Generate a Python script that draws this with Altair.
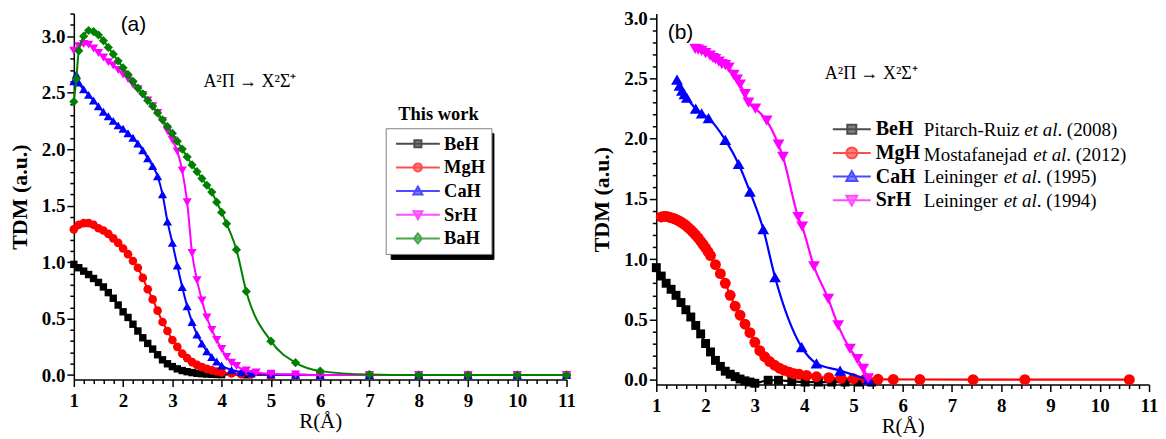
import altair as alt
import pandas as pd

# ---------------- Panel (a): "This work" ----------------
A_SERIES = ["BeH", "MgH", "CaH", "SrH", "BaH"]
A_COLORS = ["#000000", "#ff0000", "#0000ff", "#ff00ff", "#008000"]

a_beh_r = [1.0, 1.1, 1.2, 1.3, 1.4, 1.5, 1.6, 1.7, 1.8, 1.9,
           2.0, 2.1, 2.2, 2.3, 2.4, 2.5, 2.6, 2.7, 2.8, 2.9,
           3.0, 3.1, 3.2, 3.3, 3.4, 3.5, 3.6, 3.7, 3.8, 3.9,
           4.0, 4.5, 5.0, 6.0, 7.0, 8.0, 9.0, 10.0, 11.0]
a_beh_v = [0.98, 0.95, 0.92, 0.89, 0.855, 0.82, 0.78, 0.73, 0.68, 0.62,
           0.56, 0.51, 0.45, 0.39, 0.33, 0.28, 0.23, 0.18, 0.135, 0.10,
           0.075, 0.055, 0.04, 0.03, 0.022, 0.016, 0.012, 0.009, 0.007, 0.005,
           0.004, 0.002, 0.001, 0.0, 0.0, 0.0, 0.0, 0.0, 0.0]

a_mgh_r = [1.0, 1.1, 1.2, 1.3, 1.4, 1.5, 1.6, 1.7, 1.8, 1.9,
           2.0, 2.1, 2.2, 2.3, 2.4, 2.5, 2.6, 2.7, 2.8, 2.9,
           3.0, 3.1, 3.2, 3.3, 3.4, 3.5, 3.6, 3.7, 3.8, 3.9,
           4.0, 4.2, 4.4, 4.6, 5.0, 5.5, 6.0, 7.0, 8.0, 9.0, 10.0, 11.0]
a_mgh_v = [1.29, 1.33, 1.345, 1.345, 1.33, 1.30, 1.28, 1.25, 1.21, 1.17,
           1.12, 1.07, 1.01, 0.95, 0.86, 0.76, 0.67, 0.57, 0.47, 0.39,
           0.31, 0.25, 0.19, 0.15, 0.115, 0.09, 0.07, 0.055, 0.042, 0.032,
           0.024, 0.014, 0.008, 0.005, 0.002, 0.001, 0.0, 0.0, 0.0, 0.0, 0.0, 0.0]

a_cah_r = [1.0, 1.05,
           1.1, 1.2, 1.3, 1.4, 1.5, 1.6, 1.7, 1.8, 1.9, 2.0,
           2.1, 2.2, 2.3, 2.4, 2.5, 2.6, 2.7, 2.8, 2.9, 3.0,
           3.1, 3.2, 3.3, 3.4, 3.5, 3.6, 3.7, 3.8, 3.9, 4.0,
           4.2, 4.4, 4.6, 5.0, 5.5, 6.0, 7.0, 8.0, 9.0, 10.0, 11.0]
a_cah_v = [2.60, 2.66,
           2.59, 2.53, 2.48, 2.43, 2.38, 2.33, 2.29, 2.25, 2.21, 2.18,
           2.14, 2.10, 2.05, 1.99, 1.92, 1.85, 1.76, 1.60, 1.36, 1.17,
           0.97, 0.78, 0.61, 0.47, 0.36, 0.28, 0.21, 0.16, 0.12, 0.085,
           0.045, 0.025, 0.015, 0.006, 0.003, 0.0, 0.0, 0.0, 0.0, 0.0, 0.0]

a_srh_r = [1.0, 1.1, 1.2, 1.3, 1.4, 1.5, 1.6, 1.7, 1.8, 1.9,
           2.0, 2.1, 2.2, 2.3, 2.4, 2.5, 2.6, 2.7, 2.8, 2.9,
           3.0, 3.1, 3.2, 3.3, 3.4, 3.5, 3.6, 3.7, 3.8, 3.9,
           4.0, 4.1, 4.2, 4.3,
           4.5, 4.7, 5.0, 5.5, 6.0, 7.0, 8.0, 9.0, 10.0, 11.0]
a_srh_v = [2.87, 2.91, 2.93, 2.925, 2.89, 2.85, 2.81, 2.77, 2.74, 2.70,
           2.66, 2.62, 2.57, 2.53, 2.48, 2.43, 2.38, 2.32, 2.25, 2.16,
           2.08, 1.98, 1.81, 1.53, 1.08, 0.84, 0.66, 0.51, 0.40, 0.31,
           0.23, 0.16, 0.11, 0.08,
           0.04, 0.022, 0.011, 0.005, 0.0, 0.0, 0.0, 0.0, 0.0, 0.0]

a_bah_r = [1.0, 1.05, 1.1,
           1.2, 1.3, 1.4, 1.5, 1.6, 1.7, 1.8, 1.9, 2.0, 2.1,
           2.2, 2.3, 2.4, 2.5, 2.6, 2.7, 2.8, 2.9, 3.0, 3.1,
           3.2, 3.3, 3.4, 3.5, 3.6, 3.7, 3.8, 3.9, 4.0, 4.1,
           4.3, 4.5, 5.0, 5.5, 6.0, 7.0, 8.0, 9.0, 10.0, 11.0]
a_bah_v = [2.42, 2.62, 2.87,
           3.00, 3.05, 3.04, 3.01, 2.96, 2.90, 2.84, 2.78, 2.72, 2.66,
           2.60, 2.54, 2.49, 2.43, 2.38, 2.32, 2.26, 2.20, 2.14, 2.07,
           2.00, 1.93, 1.86, 1.80, 1.74, 1.68, 1.62, 1.53, 1.44, 1.34,
           1.11, 0.74, 0.30, 0.11, 0.035, 0.005, 0.0, 0.0, 0.0, 0.0]

# ---------------- Panel (b): literature ----------------
B_SERIES = ["BeH", "MgH", "CaH", "SrH"]
B_COLORS = ["#000000", "#ff0000", "#0000ff", "#ff00ff"]
B_NAMES = ["Pitarch-Ruiz ", "Mostafanejad ", "Leininger ", "Leininger "]
B_ETAL = ["et al", "et al", "et al", "et al"]
B_YEARS = [". (2008)", ". (2012)", ". (1995)", ". (1994)"]

b_beh_r = [1.0, 1.1, 1.2, 1.3, 1.4, 1.5, 1.6, 1.7, 1.8, 1.9,
           2.0, 2.1, 2.2, 2.3, 2.4, 2.5, 2.6, 2.7, 2.8, 2.9,
           3.0, 3.27, 3.48, 3.75, 4.02, 4.29, 4.56, 4.83, 5.1, 5.37]
b_beh_v = [0.93, 0.86, 0.80, 0.75, 0.70, 0.64, 0.58, 0.52, 0.45, 0.38,
           0.30, 0.23, 0.16, 0.11, 0.07, 0.045, 0.025, 0.005, -0.01, -0.02,
           -0.03, -0.005, -0.005, -0.015, -0.02, -0.02, -0.02, -0.02, -0.02, -0.02]

b_mgh_r = [1.10, 1.15, 1.20, 1.25, 1.30, 1.35, 1.40, 1.45, 1.50, 1.55,
           1.60, 1.65, 1.70, 1.75, 1.80, 1.85, 1.90, 1.95, 2.00, 2.05, 2.10,
           2.2, 2.3, 2.4, 2.5, 2.6, 2.7, 2.8, 2.9, 3.0, 3.1, 3.2, 3.3, 3.4,
           3.5, 3.6, 3.7, 3.8, 3.9,
           4.05, 4.25, 4.5, 4.75, 5.0, 5.25, 5.5, 5.81, 6.35, 7.43, 8.48, 10.6]
b_mgh_v = [1.350, 1.355, 1.355, 1.350, 1.345, 1.338, 1.330, 1.320, 1.308, 1.295,
           1.280, 1.262, 1.243, 1.222, 1.200, 1.176, 1.150, 1.122, 1.093, 1.062, 1.030,
           0.955, 0.88, 0.80, 0.70, 0.61, 0.535, 0.46, 0.39, 0.31, 0.24, 0.19, 0.15, 0.12,
           0.095, 0.077, 0.062, 0.05, 0.044,
           0.035, 0.024, 0.016, 0.011, 0.008, 0.005, 0.003, 0.002, 0.001, 0.0, 0.0, 0.0]

b_cah_r = [1.42, 1.47, 1.52, 1.57, 1.62, 1.80, 1.92, 2.06, 2.40, 2.67,
           2.90, 3.17, 3.41, 3.95, 4.25, 4.73, 5.30]
b_cah_v = [2.49, 2.44, 2.40, 2.37, 2.34, 2.25, 2.21, 2.17, 1.99, 1.79,
           1.56, 1.25, 0.85, 0.27, 0.135, 0.075, 0.0]

b_srh_r = [1.79, 1.85, 1.92, 2.00, 2.09, 2.15, 2.20, 2.27, 2.33, 2.40,
           2.47, 2.57, 2.64, 2.70, 2.80, 2.87, 3.01, 3.24, 3.48, 3.57,
           3.88, 3.96, 4.20, 4.49, 4.69, 4.93, 5.08, 5.20, 5.30]
b_srh_v = [2.745, 2.74, 2.73, 2.71, 2.69, 2.67, 2.66, 2.64, 2.62, 2.61,
           2.59, 2.53, 2.49, 2.45, 2.37, 2.30, 2.25, 2.15, 1.95, 1.85,
           1.35, 1.27, 0.94, 0.67, 0.45, 0.255, 0.17, 0.09, 0.01]


def frame(series, rs, vs):
    parts = []
    for s, r, v in zip(series, rs, vs):
        d = pd.DataFrame({"r": r, "v": v})
        d["s"] = s
        parts.append(d)
    return pd.concat(parts, ignore_index=True)


df_a = frame(A_SERIES, [a_beh_r, a_mgh_r, a_cah_r, a_srh_r, a_bah_r],
             [a_beh_v, a_mgh_v, a_cah_v, a_srh_v, a_bah_v])
df_b = frame(B_SERIES, [b_beh_r, b_mgh_r, b_cah_r, b_srh_r],
             [b_beh_v, b_mgh_v, b_cah_v, b_srh_v])

SERIF = "Liberation Serif"
SANS = "Liberation Sans"

X_TICKS = [round(1 + 0.2 * i, 1) for i in range(51)]
MAJOR_X = "abs(datum.value - round(datum.value)) < 0.01"
MAJOR_Y = "abs(datum.value * 2 - round(datum.value * 2)) < 0.01"


def x_axis():
    return alt.Axis(values=X_TICKS, format=".0f",
                    labelExpr=f"{MAJOR_X} ? datum.label : ''",
                    labelFontSize={"condition": {"test": MAJOR_X, "value": 19}, "value": 0},
                    tickSize={"condition": {"test": MAJOR_X, "value": 7}, "value": 4},
                    labelFlush=False, labelOverlap=False, labelPadding=5,
                    titlePadding=0, titleFontWeight="normal", titleFontSize=21)


def y_axis(ymax_tick):
    vals = [round(0.1 * i, 1) for i in range(int(round(ymax_tick * 10)) + 1)]
    return alt.Axis(values=vals, format=".1f",
                    labelExpr=f"{MAJOR_Y} ? datum.label : ''",
                    labelFontSize={"condition": {"test": MAJOR_Y, "value": 19}, "value": 0},
                    tickSize={"condition": {"test": MAJOR_Y, "value": 7}, "value": 4},
                    labelOverlap=False, labelPadding=2, titlePadding=10,
                    titleFontWeight="bold", titleFontSize=22)


def panel(df, series, colors, shapes, sizes, ydom, ymax_tick, height,
          leg_paths, leg_kw, shadow_kw, annotations, line_w):
    xs = alt.Scale(domain=[1, 11], nice=False, zero=False)
    ys = alt.Scale(domain=ydom, nice=False, zero=False)
    xe = alt.X("r:Q", scale=xs, axis=x_axis(), title="R(Å)")
    ye = alt.Y("v:Q", scale=ys, axis=y_axis(ymax_tick), title="TDM (a.u.)")
    layers = []
    for s, c, shp, sz in zip(series, colors, shapes, sizes):
        base = alt.Chart(df).transform_filter(alt.datum.s == s)
        layers.append(base.mark_line(interpolate="monotone", strokeWidth=line_w, color=c).encode(
            x=xe, y=ye))
        layers.append(base.mark_point(shape=shp, filled=True, size=sz, opacity=1, strokeWidth=0,
                                      color=c).encode(x=xe, y=ye))
    # legend-only layer (no marks drawn; legend built from its scales)
    enc = dict(
        fill=alt.Fill("s:N", scale=alt.Scale(domain=series, range=colors), legend=alt.Legend(**leg_kw)),
        stroke=alt.Stroke("s:N", scale=alt.Scale(domain=series, range=colors), legend=alt.Legend(**leg_kw)),
        shape=alt.Shape("s:N", scale=alt.Scale(domain=series, range=leg_paths), legend=alt.Legend(**leg_kw)),
    )
    leg = alt.Chart(df).transform_filter("false")
    if shadow_kw is not None:
        leg = leg.transform_calculate(s2="datum.s + '_s'")
        enc["strokeDash"] = alt.StrokeDash(
            "s2:N", scale=alt.Scale(domain=[s + "_s" for s in series], range=[[1, 0]] * len(series)),
            legend=alt.Legend(**shadow_kw))
    layers.append(leg.mark_point(filled=True).encode(**enc))
    for ann in annotations:
        adf = pd.DataFrame({"x": ann["x"], "y": ann["y"], "t": ann["t"]})
        layers.append(alt.Chart(adf).mark_text(
            font=ann.get("font", SERIF), fontSize=ann["size"], fontWeight=ann.get("weight", "normal"),
            fontStyle=ann.get("style", "normal"), align=ann.get("align", "left"),
            baseline="middle", color="black").encode(x=alt.X("x:Q", scale=xs, axis=x_axis(), title="R(Å)"),
                                                    y=alt.Y("y:Q", scale=ys, axis=y_axis(ymax_tick), title="TDM (a.u.)"),
                                                    text="t:N"))
    return alt.layer(*layers).properties(width=494, height=height)


# legend symbol paths: a line plus the marker
A_LINE = "M-1,0H7.8"
a_paths = [
    A_LINE + "M2.7,-0.7H4.1V0.7H2.7Z",
    A_LINE + "M2.6,0A0.8,0.8,0,1,1,4.2,0A0.8,0.8,0,1,1,2.6,0Z",
    A_LINE + "M3.4,-0.9L4.3,0.7L2.5,0.7Z",
    A_LINE + "M3.4,0.9L4.3,-0.7L2.5,-0.7Z",
    A_LINE + "M3.4,-1L4.2,0L3.4,1L2.6,0Z",
]
B_LINE = "M-1,0H6.6"
b_paths = [
    B_LINE + "M1.9,-0.9H3.7V0.9H1.9Z",
    B_LINE + "M1.7,0A1.1,1.1,0,1,1,3.9,0A1.1,1.1,0,1,1,1.7,0Z",
    B_LINE + "M2.8,-1.1L3.9,0.9L1.7,0.9Z",
    B_LINE + "M2.8,1.1L3.9,-0.9L1.7,-0.9Z",
]

common_leg = dict(title=None, orient="none", labelFont=SERIF, labelFontWeight="bold",
                  labelColor="black", symbolSize=100, symbolStrokeWidth=2, labelLimit=400,
                  direction="vertical")
a_leg = dict(common_leg, labelFontSize=18.5, rowPadding=4.75, clipHeight=19, labelOffset=34,
             legendX=312.7, legendY=115, padding=6, strokeColor="#7f7f7f", fillColor="white",
             zindex=1)
a_shadow = dict(common_leg, labelFontSize=18.5, rowPadding=4.75, clipHeight=19, labelOffset=72,
                legendX=317.7, legendY=120, padding=6, strokeColor="black", fillColor="black",
                zindex=0, symbolType="M-1,0H7.8", symbolOpacity=0, labelExpr="''")
b_leg = dict(common_leg, labelFontSize=20, rowPadding=3.7, clipHeight=20, labelOffset=28,
             legendX=172, legendY=106, padding=0, zindex=1)

a_ann = [
    {"x": [2.21], "y": [3.10], "t": ["(a)"], "size": 21, "font": SANS, "align": "center"},
    {"x": [3.63], "y": [2.59], "t": ["A²Π → X²Σ⁺"], "size": 18},
    {"x": [8.40], "y": [2.31], "t": ["This work"], "size": 18.5, "weight": "bold", "align": "center"},
]
b_rows_y = [2.069, 1.867, 1.681, 1.483]
b_ann = [
    {"x": [1.49], "y": [2.88], "t": ["(b)"], "size": 21, "font": SANS, "align": "center"},
    {"x": [4.42], "y": [2.535], "t": ["A²Π → X²Σ⁺"], "size": 18},
    {"x": [6.43] * 4, "y": b_rows_y, "t": B_NAMES, "size": 19},
    {"x": [8.47, 8.65, 8.05, 8.05], "y": b_rows_y, "t": B_ETAL, "size": 19, "style": "italic"},
    {"x": [9.14, 9.32, 8.72, 8.72], "y": b_rows_y, "t": B_YEARS, "size": 19},
]

panel_a = panel(df_a, A_SERIES, A_COLORS,
                ["square", "circle", "triangle-up", "triangle-down", "diamond"],
                [55, 75, 85, 85, 85], [-0.04, 3.2], 3.2, 367, a_paths, a_leg, a_shadow, a_ann, 2)
panel_b = panel(df_b, B_SERIES, B_COLORS,
                ["square", "circle", "triangle-up", "triangle-down"],
                [80, 120, 140, 140], [-0.041, 3.039], 3.0, 372, b_paths, b_leg, None, b_ann, 2.2)

chart = alt.hconcat(panel_a, panel_b, spacing=15).resolve_scale(
    x="independent", y="independent", fill="independent",
    stroke="independent", shape="independent", strokeDash="independent"
).resolve_legend(
    fill="independent", stroke="independent",
    shape="independent", strokeDash="independent"
).properties(
    padding={"left": 0, "top": 0, "right": 0, "bottom": 0}
).configure_view(stroke=None).configure_axis(
    labelFont=SERIF, labelFontWeight="bold", labelColor="black",
    titleFont=SERIF, titleColor="black", domainColor="black", tickColor="black",
    domainWidth=1.5, tickWidth=1.5, grid=False
)

chart.save("out.html", embed_options={"renderer": "svg", "actions": False})
